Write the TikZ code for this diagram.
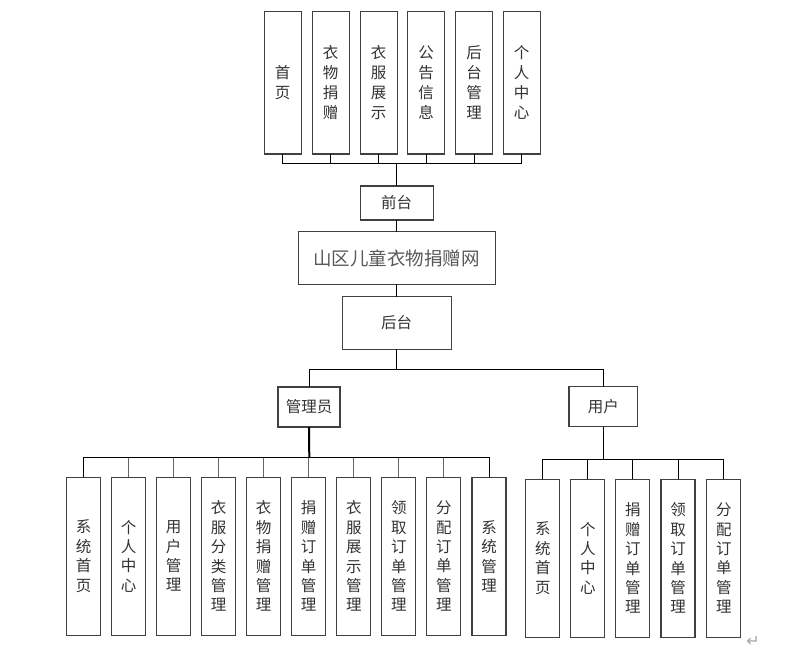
\documentclass[tikz,border=0pt]{standalone}
\usepackage{fontspec}
\setmainfont{Noto Sans CJK SC}
\newfontfamily\symfont{DejaVu Sans}
\usepackage{xcolor}

\definecolor{boxline}{HTML}{404040}
\definecolor{txt}{HTML}{333333}

\tikzset{
	box/.style={draw=boxline, line width=1.1pt, fill=white, inner sep=0pt, outer sep=0pt,
		text=txt, align=center},
	topbox/.style={box, minimum width=36.7, minimum height=142.3,
		font=\fontsize{15.5}{20}\selectfont},
	leafbox/.style={box, minimum width=34, minimum height=158,
		font=\fontsize{15.5}{19.4}\selectfont},
	midbox/.style={box, font=\fontsize{15.5}{16}\selectfont},
	link/.style={line width=0.9pt, draw=black},
	stub/.style={line width=0.9pt, draw=black!60}
}

\begin{document}
\begin{tikzpicture}[x=1pt,y=-1pt]
	\useasboundingbox (0,0) rectangle (803,670);

	% 前台
	\node[topbox] (t1) at (282.7,82.8) {首\\页};
	\node[topbox] (t2) at (330.7,82.8) {衣\\物\\捐\\赠};
	\node[topbox] (t3) at (378.7,82.8) {衣\\服\\展\\示};
	\node[topbox] (t4) at (426.0,82.8) {公\\告\\信\\息};
	\node[topbox] (t5) at (474.0,82.8) {后\\台\\管\\理};
	\node[topbox] (t6) at (521.7,82.8) {个\\人\\中\\心};

	\node[midbox, minimum width=73.3, minimum height=34] (front) at (396.7,203) {前台};
	\node[midbox, minimum width=196.7, minimum height=52.3, text=black!65,
		font=\fontsize{18.5}{20}\selectfont] (site) at (396.7,258) {山区儿童衣物捐赠网};
	\node[midbox, minimum width=108.7, minimum height=52.6] (back) at (396.7,323) {后台};

	\coordinate (fbus) at (396.7,163.3);
	\draw[link] (t1.south) |- (fbus);
	\draw[link] (t2.south) |- (fbus);
	\draw[link] (t3.south) |- (fbus);
	\draw[link] (t4.south) |- (fbus);
	\draw[link] (t5.south) |- (fbus);
	\draw[link] (t6.south) |- (fbus);
	\draw[link] (fbus) -- (front.north);
	\draw[link] (front.south) -- (site.north);
	\draw[link] (site.south) -- (back.north);

	% 后台
	\node[midbox, minimum width=62, minimum height=40] (admin) at (309,407) {管理员};
	\node[midbox, minimum width=68.7, minimum height=40] (user) at (603.3,406.7) {用户};

	\coordinate (bbus) at (396.7,369.3);
	\draw[link] (back.south) -- (bbus);
	\draw[link] (bbus) -| (admin.north);
	\draw[link] (bbus) -| (user.north);

	% 管理员
	\node[leafbox] (a1) at (83.7,556.2) {系\\统\\首\\页};
	\node[leafbox] (a2) at (128.7,556.2) {个\\人\\中\\心};
	\node[leafbox] (a3) at (173.7,556.2) {用\\户\\管\\理};
	\node[leafbox] (a4) at (218.7,556.2) {衣\\服\\分\\类\\管\\理};
	\node[leafbox] (a5) at (263.7,556.2) {衣\\物\\捐\\赠\\管\\理};
	\node[leafbox] (a6) at (308.7,556.2) {捐\\赠\\订\\单\\管\\理};
	\node[leafbox] (a7) at (353.8,556.2) {衣\\服\\展\\示\\管\\理};
	\node[leafbox] (a8) at (398.8,556.2) {领\\取\\订\\单\\管\\理};
	\node[leafbox] (a9) at (443.8,556.2) {分\\配\\订\\单\\管\\理};
	\node[leafbox] (a10) at (489.0,556.2) {系\\统\\管\\理};

	\coordinate (abus) at (309.3,457.7);
	\draw[line width=2pt] (admin.south) -- (abus);
	\draw[stub] (a2.north) |- (abus);
	\draw[stub] (a3.north) |- (abus);
	\draw[stub] (a4.north) |- (abus);
	\draw[stub] (a5.north) |- (abus);
	\draw[stub] (a6.north) |- (abus);
	\draw[stub] (a7.north) |- (abus);
	\draw[stub] (a8.north) |- (abus);
	\draw[stub] (a9.north) |- (abus);
	\draw[link] (a1.north) |- (abus);
	\draw[link] (a10.north) |- (abus);

	% 用户
	\node[leafbox] (u1) at (542.8,558.2) {系\\统\\首\\页};
	\node[leafbox] (u2) at (587.8,558.2) {个\\人\\中\\心};
	\node[leafbox] (u3) at (632.8,558.2) {捐\\赠\\订\\单\\管\\理};
	\node[leafbox] (u4) at (678.0,558.2) {领\\取\\订\\单\\管\\理};
	\node[leafbox] (u5) at (723.8,558.2) {分\\配\\订\\单\\管\\理};

	\coordinate (ubus) at (603.3,459.3);
	\draw[link] (user.south) -- (ubus);
	\draw[link] (u1.north) |- (ubus);
	\draw[link] (u2.north) |- (ubus);
	\draw[link] (u3.north) |- (ubus);
	\draw[link] (u4.north) |- (ubus);
	\draw[link] (u5.north) |- (ubus);

	\node[text=black!35, font=\symfont\fontsize{16}{16}\selectfont] (ret) at (753,641) {↵};
\end{tikzpicture}
\end{document}
